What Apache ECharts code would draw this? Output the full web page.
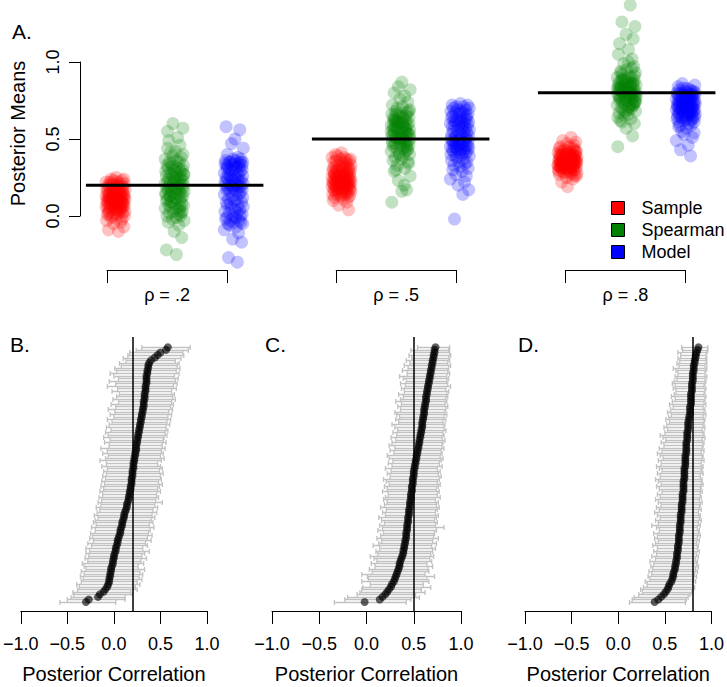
<!DOCTYPE html>
<html><head><meta charset="utf-8">
<script src="https://cdn.jsdelivr.net/npm/echarts@6/dist/echarts.min.js"></script>
<style>html,body{margin:0;padding:0;background:#fff}#c{width:727px;height:687px}</style>
</head><body><div id="c"></div>
<script>
const rhoValues = [0.2, 0.5, 0.8];
const rhoLabels = ['ρ = .2', 'ρ = .5', 'ρ = .8'];
const methodNames = ['Sample', 'Spearman', 'Model'];
const panelLetters = ['A.', 'B.', 'C.', 'D.'];
const meansTicks = [0, 0.5, 1];
const corrTicks = [-1, -0.5, 0, 0.5, 1];

const sampleR2 = [-0.10,-0.09,-0.07,-0.05,-0.04,-0.03,-0.02,-0.02,-0.01,0.00,
0.00,0.01,0.01,0.02,0.02,0.03,0.03,0.03,0.04,0.04,
0.04,0.05,0.05,0.05,0.06,0.06,0.06,0.06,0.07,0.07,
0.07,0.07,0.08,0.08,0.08,0.08,0.08,0.09,0.09,0.09,
0.09,0.09,0.10,0.10,0.10,0.10,0.10,0.11,0.11,0.11,
0.11,0.11,0.12,0.12,0.12,0.12,0.12,0.13,0.13,0.13,
0.13,0.13,0.14,0.14,0.14,0.14,0.15,0.15,0.15,0.15,
0.16,0.16,0.16,0.16,0.17,0.17,0.17,0.18,0.18,0.18,
0.19,0.19,0.19,0.20,0.20,0.20,0.21,0.21,0.21,0.22,
0.22,0.22,0.23,0.23,0.24,0.24,0.25,0.02,0.05,0.11];
const sampleR5 = [0.04,0.07,0.09,0.10,0.11,0.12,0.12,0.13,0.13,0.14,
0.14,0.14,0.15,0.15,0.15,0.16,0.16,0.16,0.17,0.17,
0.17,0.17,0.18,0.18,0.18,0.18,0.19,0.19,0.19,0.19,
0.19,0.20,0.20,0.20,0.20,0.20,0.21,0.21,0.21,0.21,
0.21,0.22,0.22,0.22,0.22,0.22,0.23,0.23,0.23,0.23,
0.23,0.24,0.24,0.24,0.24,0.24,0.25,0.25,0.25,0.25,
0.26,0.26,0.26,0.26,0.27,0.27,0.27,0.27,0.28,0.28,
0.28,0.28,0.29,0.29,0.29,0.30,0.30,0.30,0.31,0.31,
0.31,0.32,0.32,0.32,0.33,0.33,0.34,0.34,0.35,0.35,
0.36,0.36,0.37,0.37,0.38,0.38,0.39,0.37,0.40,0.41];
const sampleR8 = [0.19,0.22,0.24,0.25,0.26,0.27,0.27,0.28,0.28,0.29,
0.29,0.29,0.30,0.30,0.30,0.31,0.31,0.31,0.31,0.32,
0.32,0.32,0.32,0.33,0.33,0.33,0.33,0.33,0.34,0.34,
0.34,0.34,0.34,0.35,0.35,0.35,0.35,0.35,0.35,0.36,
0.36,0.36,0.36,0.36,0.37,0.37,0.37,0.37,0.37,0.38,
0.38,0.38,0.38,0.39,0.39,0.39,0.39,0.40,0.40,0.40,
0.40,0.41,0.41,0.41,0.42,0.42,0.42,0.43,0.43,0.44,
0.44,0.45,0.45,0.46,0.47,0.48,0.49,0.51,0.30,0.32,
0.33,0.34,0.35,0.36,0.37,0.38,0.39,0.40,0.41,0.31,
0.28,0.26,0.36,0.34,0.33,0.37,0.35,0.38,0.32,0.42];

const spearR2 = [-0.25,-0.22,-0.14,-0.10,-0.06,-0.04,-0.03,-0.02,-0.01,0.00,
0.00,0.01,0.02,0.03,0.03,0.04,0.05,0.05,0.06,0.07,
0.07,0.08,0.08,0.09,0.10,0.10,0.11,0.11,0.12,0.12,
0.13,0.13,0.14,0.14,0.15,0.15,0.16,0.16,0.17,0.17,
0.17,0.18,0.18,0.18,0.19,0.19,0.20,0.20,0.20,0.21,
0.21,0.22,0.22,0.22,0.23,0.23,0.24,0.24,0.25,0.25,
0.26,0.26,0.27,0.27,0.28,0.28,0.29,0.29,0.30,0.30,
0.31,0.31,0.32,0.32,0.33,0.33,0.34,0.35,0.35,0.36,
0.37,0.38,0.39,0.40,0.41,0.42,0.44,0.46,0.49,0.51,
0.55,0.57,0.60,0.06,0.15,0.24,0.02,0.13,0.27,0.09];
const spearR5 = [0.09,0.16,0.17,0.23,0.26,0.29,0.31,0.33,0.34,0.36,
0.37,0.38,0.39,0.40,0.41,0.42,0.42,0.43,0.44,0.44,
0.45,0.46,0.46,0.47,0.47,0.48,0.48,0.49,0.49,0.50,
0.50,0.51,0.51,0.52,0.52,0.53,0.53,0.54,0.54,0.55,
0.55,0.56,0.56,0.57,0.57,0.58,0.58,0.59,0.59,0.60,
0.60,0.61,0.61,0.62,0.62,0.63,0.63,0.64,0.64,0.65,
0.65,0.66,0.67,0.67,0.68,0.69,0.70,0.71,0.72,0.74,
0.76,0.78,0.80,0.82,0.84,0.87,0.45,0.52,0.58,0.62,
0.35,0.40,0.48,0.55,0.60,0.66,0.53,0.57,0.50,0.43,
0.61,0.56,0.47,0.64,0.59,0.54,0.51,0.68,0.30,0.20];
const spearR8 = [0.45,0.52,0.57,0.60,0.62,0.63,0.65,0.66,0.67,0.68,
0.69,0.70,0.70,0.71,0.72,0.72,0.73,0.74,0.74,0.75,
0.75,0.76,0.76,0.77,0.77,0.78,0.78,0.79,0.79,0.80,
0.80,0.80,0.81,0.81,0.82,0.82,0.83,0.83,0.84,0.84,
0.85,0.85,0.86,0.86,0.87,0.87,0.88,0.88,0.89,0.90,
0.90,0.91,0.92,0.93,0.94,0.95,0.97,0.99,1.02,1.05,
1.08,1.12,1.15,1.18,1.23,1.26,1.37,0.64,0.69,0.73,
0.76,0.79,0.82,0.85,0.88,0.91,0.78,0.81,0.84,0.71,
0.74,0.77,0.80,0.83,0.86,0.89,0.79,0.82,0.75,0.87,
0.93,0.96,0.68,0.72,0.85,0.80,0.83,0.77,0.61,1.00];

const modelR2 = [-0.30,-0.27,-0.17,-0.15,-0.11,-0.09,-0.07,-0.06,-0.05,-0.05,
-0.04,-0.04,-0.03,-0.03,-0.02,-0.01,-0.01,0.00,0.00,0.01,
0.02,0.02,0.03,0.04,0.04,0.05,0.06,0.07,0.07,0.08,
0.09,0.09,0.10,0.11,0.11,0.12,0.13,0.14,0.14,0.15,
0.16,0.16,0.17,0.17,0.18,0.18,0.19,0.19,0.19,0.20,
0.20,0.20,0.21,0.21,0.21,0.22,0.22,0.23,0.23,0.24,
0.24,0.24,0.25,0.25,0.26,0.26,0.27,0.27,0.28,0.28,
0.29,0.29,0.30,0.30,0.31,0.31,0.32,0.32,0.32,0.33,
0.33,0.33,0.34,0.34,0.34,0.35,0.35,0.35,0.35,0.36,
0.36,0.37,0.37,0.38,0.40,0.44,0.47,0.50,0.56,0.58];
const lowR2 = [-0.58,-0.50,-0.46,-0.43,-0.44,-0.39,-0.37,-0.40,-0.35,-0.33,
-0.36,-0.32,-0.35,-0.30,-0.32,-0.34,-0.28,-0.31,-0.27,-0.30,
-0.26,-0.30,-0.24,-0.28,-0.22,-0.26,-0.23,-0.25,-0.20,-0.24,
-0.19,-0.22,-0.20,-0.17,-0.21,-0.18,-0.15,-0.19,-0.14,-0.17,
-0.13,-0.16,-0.12,-0.15,-0.11,-0.14,-0.10,-0.13,-0.09,-0.12,
-0.08,-0.11,-0.07,-0.13,-0.08,-0.15,-0.09,-0.06,-0.12,-0.07,
-0.14,-0.05,-0.10,-0.04,-0.11,-0.06,-0.09,-0.03,-0.08,-0.05,
-0.02,-0.07,0.00,-0.04,0.01,-0.06,0.02,-0.03,0.05,-0.01,
0.03,0.06,-0.02,0.04,-0.07,0.02,-0.05,0.05,0.00,-0.04,
0.03,0.01,0.08,0.06,0.13,0.10,0.15,0.17,0.24,0.30];
const highR2 = [0.02,0.12,0.12,0.20,0.18,0.25,0.23,0.28,0.25,0.30,
0.27,0.31,0.28,0.33,0.26,0.32,0.29,0.35,0.30,0.33,
0.38,0.31,0.36,0.34,0.40,0.36,0.41,0.37,0.39,0.43,
0.38,0.42,0.40,0.44,0.41,0.46,0.42,0.47,0.44,0.52,
0.45,0.48,0.46,0.50,0.47,0.49,0.52,0.48,0.51,0.50,
0.53,0.49,0.52,0.50,0.47,0.51,0.54,0.50,0.53,0.51,
0.55,0.52,0.56,0.53,0.54,0.57,0.55,0.58,0.56,0.60,
0.57,0.61,0.58,0.62,0.59,0.63,0.61,0.64,0.62,0.66,
0.63,0.65,0.62,0.67,0.64,0.68,0.66,0.69,0.65,0.70,
0.67,0.71,0.68,0.70,0.66,0.72,0.75,0.74,0.80,0.82];

const modelR5 = [-0.02,0.14,0.17,0.20,0.22,0.24,0.26,0.27,0.29,0.30,
0.31,0.32,0.33,0.34,0.35,0.35,0.36,0.37,0.38,0.39,
0.39,0.40,0.40,0.41,0.41,0.42,0.42,0.42,0.43,0.43,
0.43,0.44,0.44,0.44,0.45,0.45,0.45,0.46,0.46,0.46,
0.47,0.47,0.47,0.48,0.48,0.48,0.49,0.49,0.49,0.50,
0.50,0.50,0.51,0.51,0.52,0.52,0.53,0.53,0.54,0.54,
0.55,0.55,0.56,0.56,0.57,0.57,0.58,0.58,0.59,0.59,
0.59,0.60,0.60,0.61,0.61,0.61,0.62,0.62,0.63,0.63,
0.63,0.64,0.64,0.65,0.65,0.66,0.66,0.67,0.67,0.68,
0.68,0.69,0.69,0.70,0.70,0.71,0.71,0.72,0.72,0.73];
const lowR5 = [-0.34,-0.23,-0.20,-0.10,-0.07,-0.05,-0.04,0.04,-0.05,0.02,
0.01,-0.05,0.06,0.03,0.09,0.05,0.11,0.08,0.04,0.12,
0.10,0.14,0.07,0.13,0.16,0.11,0.15,0.18,0.12,0.17,
0.14,0.19,0.16,0.13,0.20,0.17,0.21,0.15,0.19,0.22,
0.18,0.20,0.23,0.17,0.22,0.19,0.24,0.21,0.18,0.25,
0.22,0.26,0.20,0.27,0.23,0.28,0.24,0.22,0.29,0.25,
0.30,0.24,0.27,0.31,0.26,0.32,0.28,0.33,0.30,0.27,
0.34,0.31,0.35,0.32,0.30,0.36,0.33,0.37,0.31,0.36,
0.39,0.34,0.40,0.37,0.41,0.36,0.42,0.39,0.35,0.43,
0.38,0.44,0.40,0.46,0.42,0.48,0.45,0.50,0.47,0.54];
const highR5 = [0.42,0.47,0.56,0.52,0.62,0.58,0.68,0.60,0.66,0.64,
0.72,0.62,0.66,0.65,0.70,0.64,0.69,0.67,0.71,0.68,
0.70,0.73,0.69,0.74,0.70,0.76,0.71,0.72,0.74,0.82,
0.73,0.75,0.72,0.74,0.76,0.73,0.75,0.77,0.74,0.76,
0.73,0.78,0.75,0.77,0.74,0.76,0.78,0.75,0.77,0.79,
0.76,0.78,0.75,0.80,0.77,0.79,0.81,0.78,0.80,0.79,
0.82,0.80,0.81,0.83,0.80,0.82,0.81,0.84,0.82,0.83,
0.81,0.84,0.82,0.85,0.83,0.84,0.86,0.83,0.85,0.84,
0.86,0.85,0.87,0.84,0.89,0.86,0.85,0.87,0.85,0.88,
0.86,0.87,0.89,0.86,0.88,0.87,0.89,0.88,0.87,0.88];

const modelR8 = [0.39,0.43,0.46,0.49,0.51,0.53,0.54,0.55,0.57,0.58,
0.59,0.59,0.60,0.61,0.61,0.62,0.62,0.63,0.63,0.63,
0.64,0.64,0.64,0.65,0.65,0.65,0.65,0.66,0.66,0.66,
0.66,0.67,0.67,0.67,0.67,0.68,0.68,0.68,0.68,0.69,
0.69,0.69,0.69,0.70,0.70,0.70,0.70,0.70,0.71,0.71,
0.71,0.71,0.71,0.72,0.72,0.72,0.72,0.72,0.73,0.73,
0.73,0.73,0.73,0.74,0.74,0.74,0.74,0.75,0.75,0.75,
0.75,0.76,0.76,0.77,0.77,0.77,0.77,0.78,0.78,0.78,
0.78,0.78,0.79,0.79,0.79,0.79,0.80,0.80,0.80,0.80,
0.81,0.81,0.81,0.82,0.82,0.83,0.83,0.84,0.85,0.86];
const lowR8 = [0.12,0.15,0.17,0.22,0.26,0.24,0.27,0.31,0.29,0.34,
0.32,0.36,0.33,0.37,0.35,0.38,0.34,0.40,0.36,0.41,
0.38,0.42,0.37,0.40,0.43,0.39,0.42,0.38,0.44,0.41,
0.36,0.43,0.40,0.45,0.42,0.39,0.44,0.41,0.46,0.43,
0.40,0.45,0.42,0.47,0.44,0.41,0.46,0.43,0.40,0.45,
0.42,0.47,0.44,0.41,0.46,0.43,0.48,0.45,0.42,0.47,
0.44,0.49,0.46,0.51,0.48,0.45,0.50,0.53,0.49,0.52,
0.55,0.51,0.54,0.57,0.53,0.56,0.59,0.55,0.58,0.61,
0.57,0.60,0.62,0.59,0.61,0.58,0.60,0.63,0.61,0.64,
0.62,0.59,0.65,0.63,0.66,0.64,0.67,0.64,0.69,0.68];
const highR8 = [0.72,0.73,0.75,0.77,0.79,0.80,0.82,0.80,0.83,0.81,
0.84,0.82,0.85,0.83,0.86,0.84,0.85,0.83,0.86,0.84,
0.87,0.85,0.86,0.84,0.87,0.85,0.88,0.86,0.87,0.85,
0.88,0.86,0.89,0.87,0.88,0.86,0.89,0.87,0.88,0.90,
0.87,0.89,0.88,0.90,0.88,0.89,0.91,0.89,0.90,0.88,
0.91,0.89,0.90,0.91,0.89,0.92,0.90,0.91,0.89,0.92,
0.90,0.91,0.92,0.90,0.93,0.91,0.92,0.90,0.93,0.91,
0.92,0.93,0.91,0.94,0.92,0.93,0.91,0.94,0.92,0.93,
0.94,0.92,0.93,0.94,0.92,0.93,0.94,0.93,0.95,0.93,
0.94,0.95,0.93,0.95,0.94,0.95,0.94,0.95,0.96,0.96];

const jitterOffsets = [0.05,-0.12,0.14,-0.03,0.09,-0.15,0.01,0.11,-0.08,0.15,
-0.06,0.03,-0.14,0.12,-0.01,0.07,-0.11,0.16,-0.04,0.02,
0.10,-0.13,0.06,-0.09,0.13,-0.02,0.08,-0.16,0.04,-0.07,
0.15,-0.10,0.00,0.12,-0.05,0.09,-0.14,0.03,-0.12,0.11,
-0.01,0.14,-0.08,0.06,-0.15,0.02,0.10,-0.04,0.16,-0.11,
0.07,-0.06,0.13,-0.13,0.01,-0.09,0.05,0.15,-0.03,0.08,
-0.16,0.11,-0.07,0.04,-0.12,0.14,0.00,-0.10,0.09,-0.02,
0.12,-0.14,0.06,-0.05,0.16,-0.08,0.03,-0.15,0.10,-0.01,
0.13,-0.11,0.07,-0.04,0.02,-0.13,0.15,-0.06,0.08,-0.09,
0.04,-0.16,0.11,-0.03,0.14,-0.07,0.01,-0.12,0.09,-0.10];

const groups = [
  [sampleR2, spearR2, modelR2],
  [sampleR5, spearR5, modelR5],
  [sampleR8, spearR8, modelR8]
];
const forest = [
  {mid: modelR2, lo: lowR2, hi: highR2},
  {mid: modelR5, lo: lowR5, hi: highR5},
  {mid: modelR8, lo: lowR8, hi: highR8}
];

const FONT = '"Liberation Sans", Arial, Helvetica, sans-serif';
const solidColors = ['#FF0000', '#008000', '#0000FF'];
const alphaColors = ['rgba(255,0,0,0.3)', 'rgba(0,128,0,0.3)', 'rgba(0,0,255,0.3)'];
const fmt = v => (v < 0 ? '\u2212' : '') + Math.abs(v).toFixed(1);

const topGrid = {left: 71, top: 62, width: 644, height: 154};
const xMin = -0.6, xMax = 10.133, setGap = 3.82;
const pxOf = p => topGrid.left + (p - xMin) / (xMax - xMin) * topGrid.width;

const grids = [topGrid];
const xAxes = [{gridIndex: 0, type: 'value', min: xMin, max: xMax, show: false}];
const yAxes = [{
  gridIndex: 0, type: 'value', min: 0, max: 1, interval: 0.5,
  axisLine: {show: true, onZero: false, lineStyle: {color: '#000', width: 1}},
  axisTick: {show: true, length: 11, lineStyle: {color: '#000'}},
  axisLabel: {rotate: 90, margin: 18, fontSize: 18, color: '#000', fontFamily: FONT, formatter: fmt},
  splitLine: {show: false},
  name: 'Posterior Means', nameLocation: 'middle', nameGap: 52,
  nameTextStyle: {fontSize: 20, color: '#000', fontFamily: FONT, padding: [0, 0, 0, 11]}
}];

rhoLabels.forEach((lab, k) => {
  const l = pxOf(k * setGap), r = pxOf(k * setGap + 2);
  grids.push({left: l, width: r - l, top: 269, height: 1});
  xAxes.push({
    gridIndex: grids.length - 1, type: 'value', min: 0, max: 1, interval: 1, position: 'bottom',
    axisLine: {show: true, onZero: false, lineStyle: {color: '#000', width: 1}},
    axisTick: {show: true, length: 13, lineStyle: {color: '#000'}},
    axisLabel: {show: false}, splitLine: {show: false},
    name: lab, nameLocation: 'middle', nameGap: 16,
    nameTextStyle: {fontSize: 18, color: '#000', fontFamily: FONT}
  });
  yAxes.push({gridIndex: grids.length - 1, type: 'value', min: 0, max: 1, show: false});
});

const forestPos = [{left: 17, width: 190}, {left: 272, width: 189}, {left: 525, width: 188}];
forestPos.forEach((p, k) => {
  grids.push({left: p.left, width: p.width, top: 337, height: 274});
  xAxes.push({
    gridIndex: grids.length - 1, type: 'value', min: -1, max: 1, interval: 0.5, position: 'bottom',
    axisLine: {show: true, onZero: false, lineStyle: {color: '#000', width: 1}},
    axisTick: {show: true, length: 13, lineStyle: {color: '#000'}},
    axisLabel: {margin: 24, fontSize: 18, color: '#000', fontFamily: FONT, formatter: fmt},
    splitLine: {show: false},
    name: 'Posterior Correlation', nameLocation: 'middle', nameGap: 53,
    nameTextStyle: {fontSize: 20, color: '#000', fontFamily: FONT}
  });
  yAxes.push({gridIndex: grids.length - 1, type: 'value', min: -3.5, max: 103, show: false});
});

const series = [];
groups.forEach((set, k) => {
  set.forEach((vals, m) => {
    const g = k * 3 + m;
    series.push({
      type: 'scatter', name: methodNames[m], xAxisIndex: 0, yAxisIndex: 0,
      data: vals.map((v, i) => [k * setGap + m + jitterOffsets[(i + g * 11) % 100], v]),
      symbolSize: 13, itemStyle: {color: alphaColors[m]}, clip: false, z: 2, silent: true
    });
  });
  series.push({
    type: 'line', xAxisIndex: 0, yAxisIndex: 0, symbol: 'none', silent: true, z: 5,
    data: [[k * setGap - 0.5, rhoValues[k]], [k * setGap + 2.5, rhoValues[k]]],
    lineStyle: {color: '#000', width: 3}
  });
});

function errRender(params, api) {
  const a = api.coord([api.value(0), api.value(2)]);
  const b = api.coord([api.value(1), api.value(2)]);
  const y = Math.round(a[1]) + 0.5;
  const h = 2.5, st = {stroke: '#c2c2c2', lineWidth: 1.3};
  return {type: 'group', children: [
    {type: 'line', shape: {x1: a[0], y1: y, x2: b[0], y2: y}, style: st},
    {type: 'line', shape: {x1: a[0], y1: y - h, x2: a[0], y2: y + h}, style: st},
    {type: 'line', shape: {x1: b[0], y1: y - h, x2: b[0], y2: y + h}, style: st}
  ]};
}

forest.forEach((f, k) => {
  const ai = 4 + k;
  series.push({
    type: 'custom', xAxisIndex: ai, yAxisIndex: ai, renderItem: errRender, silent: true,
    data: f.lo.map((lo, i) => [lo, f.hi[i], i]), encode: {x: [0, 1], y: 2}, z: 1
  });
  series.push({
    type: 'scatter', xAxisIndex: ai, yAxisIndex: ai, symbolSize: 8, silent: true, z: 3,
    itemStyle: {color: 'rgba(0,0,0,0.78)'},
    data: f.mid.map((v, i) => [v, i]),
    markLine: {silent: true, symbol: ['none', 'none'], label: {show: false},
      lineStyle: {color: '#000', width: 1.5, type: 'solid'}, data: [{xAxis: rhoValues[k]}]}
  });
});

const letterPos = [[12, 21], [10, 334], [265, 334], [518, 334]];
const option = {
  animation: false,
  backgroundColor: '#fff',
  grid: grids, xAxis: xAxes, yAxis: yAxes, series: series,
  legend: {
    orient: 'vertical', left: 611, top: 199, padding: 0, itemWidth: 13, itemHeight: 13, itemGap: 4,
    icon: 'rect', selectedMode: false,
    textStyle: {fontSize: 18, color: '#000', fontFamily: FONT, padding: [0, 0, 0, 12]},
    data: methodNames.map((n, m) => ({name: n, itemStyle: {color: solidColors[m], opacity: 1, borderColor: '#000', borderWidth: 1}}))
  },
  graphic: panelLetters.map((t, i) => ({
    type: 'text', left: letterPos[i][0], top: letterPos[i][1],
    style: {text: t, fontSize: 21, fill: '#000', fontFamily: FONT}
  }))
};
const chart = echarts.init(document.getElementById('c'), null, {renderer: 'svg'});
chart.setOption(option);
</script></body></html>
